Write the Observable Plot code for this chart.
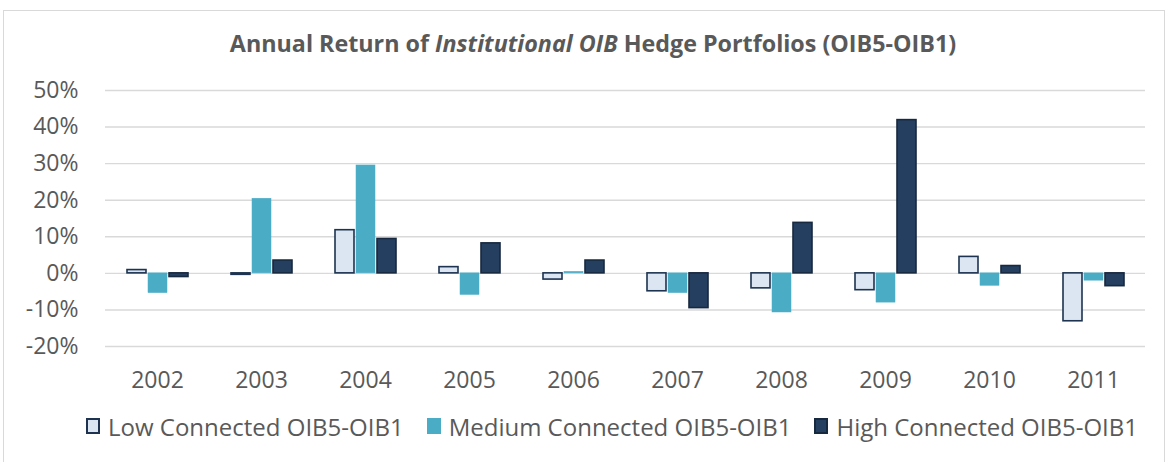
<!DOCTYPE html>
<html>
<head>
<meta charset="utf-8">
<script src="https://cdn.jsdelivr.net/npm/d3@7"></script>
<script src="https://cdn.jsdelivr.net/npm/@observablehq/plot@0.6"></script>
<style>
  html, body { margin: 0; padding: 0; background: #fff; }
  #wrap { position: relative; width: 1169px; height: 462px; overflow: hidden; font-family: "Open Sans", sans-serif; }
  #frame { position: absolute; left: 3px; top: 10px; width: 1162px; height: 470px; border: 1px solid #d9d9d9; box-sizing: border-box; }
  #title { position: absolute; left: 0; width: 1186px; top: 28px; line-height: 30px; text-align: center; font-size: 23.3px; font-weight: 700; color: #595959; }
  #chart { position: absolute; left: 0; top: 70px; }
  #legend { position: absolute; left: 86px; top: 410px; height: 32px; display: flex; align-items: center; font-size: 24px; color: #595959; white-space: nowrap; }
  .item { display: flex; align-items: center; margin-right: 23px; }
  .sw { width: 14px; height: 16px; margin-right: 8px; box-sizing: border-box; }
</style>
</head>
<body>
<div id="wrap">
  <div id="frame"></div>
  <div id="title">Annual Return of <i>Institutional OIB</i> Hedge Portfolios (OIB5-OIB1)</div>
  <div id="chart"></div>
  <div id="legend"></div>
</div>
<script>
const years = ["2002","2003","2004","2005","2006","2007","2008","2009","2010","2011"];
const seriesNames = ["Low Connected OIB5-OIB1", "Medium Connected OIB5-OIB1", "High Connected OIB5-OIB1"];
const lowValues = [0.9, -0.4, 11.8, 1.7, -1.7, -4.9, -4.1, -4.6, 4.5, -13.1];
const mediumValues = [-5.4, 20.4, 29.5, -5.9, 0.4, -5.4, -10.7, -8.0, -3.4, -2.0];
const highValues = [-1.0, 3.5, 9.4, 8.2, 3.5, -9.5, 13.8, 41.9, 2.0, -3.5];
const yTicks = [-20, -10, 0, 10, 20, 30, 40, 50];

const styles = [
  {fill: "#dce6f2", stroke: "#1d3350", strokeWidth: 1.6},
  {fill: "#4bacc6", stroke: "#4bacc6", strokeWidth: 0.5},
  {fill: "#243f60", stroke: "#17293f", strokeWidth: 1.6}
];
const valueSets = [lowValues, mediumValues, highValues];

const data = [];
seriesNames.forEach((s, i) => {
  years.forEach((y, j) => data.push({year: y, series: s, value: valueSets[i][j]}));
});

const chart = Plot.plot({
  width: 1169,
  height: 330,
  marginTop: 20,
  marginBottom: 54,
  marginLeft: 104,
  marginRight: 24,
  style: {fontFamily: "Open Sans, sans-serif", fontSize: "23px", color: "#595959", background: "transparent", overflow: "visible"},
  fx: {domain: years, padding: 0, label: null},
  x: {domain: seriesNames, paddingInner: 0.1, paddingOuter: 0.915, axis: null},
  y: {domain: [-20, 50], label: null},
  marks: [
    Plot.gridY(yTicks, {stroke: "#d9d9d9", strokeOpacity: 1, strokeWidth: 1.4}),
    Plot.axisY(yTicks, {tickSize: 0, tickPadding: 27, tickFormat: d => d + "%", label: null, fill: "#595959"}),
    Plot.axisFx({anchor: "bottom", tickSize: 0, tickPadding: 25, label: null, fill: "#595959"}),
    ...seriesNames.map((s, i) => Plot.barY(data.filter(d => d.series === s), {
      fx: "year", x: "series", y: "value", ...styles[i]
    }))
  ]
});
document.getElementById("chart").appendChild(chart);

const legend = document.getElementById("legend");
seriesNames.forEach((s, i) => {
  const it = document.createElement("div");
  it.className = "item";
  const sw = document.createElement("div");
  sw.className = "sw";
  sw.style.background = styles[i].fill;
  if (i !== 1) sw.style.border = "2px solid " + styles[i].stroke;
  const tx = document.createElement("span");
  tx.textContent = s;
  it.appendChild(sw); it.appendChild(tx);
  legend.appendChild(it);
});
</script>
</body>
</html>
